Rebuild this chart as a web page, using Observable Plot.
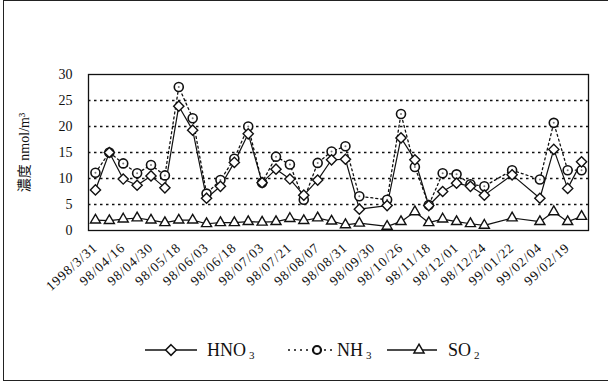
<!DOCTYPE html>
<html><head><meta charset="utf-8">
<script src="https://cdn.jsdelivr.net/npm/d3@7"></script>
<script src="https://cdn.jsdelivr.net/npm/@observablehq/plot@0.6"></script>
<style>
body{margin:0;background:#fff;}
#wrap{position:relative;width:608px;height:382px;overflow:hidden;font-family:"Liberation Serif",serif;background:#fff;}
#border{position:absolute;left:3px;top:0px;width:640px;height:381px;border:1.5px solid #222;box-sizing:border-box;pointer-events:none}
#chart{position:absolute;left:0;top:0;}
#legend{position:absolute;left:0;top:330px;}
</style></head>
<body><div id="wrap"><div id="chart"></div><svg id="legend" width="608" height="52"></svg><div id="border"></div></div>
<script>
// Category tick labels (shown on every other sampling slot)
const tickLabels = ["1998/3/31","98/04/16","98/04/30","98/05/18","98/06/03","98/06/18","98/07/03","98/07/21","98/08/07","98/08/31","98/09/30","98/10/26","98/11/18","98/12/01","98/12/24","99/01/22","99/02/04","99/02/19"];
// Series values per sampling slot (null = no sample)
const hno3 = [7.8,15.0,9.9,8.7,10.5,8.2,23.9,19.3,6.2,8.5,13.1,18.6,9.2,11.8,9.9,6.8,9.7,13.6,13.7,4.1,null,4.8,17.8,13.6,4.8,7.5,9.1,8.5,6.8,null,10.7,null,6.2,15.6,8.1,13.2];
const nh3  = [11.1,15.0,12.9,11.0,12.6,10.6,27.6,21.6,7.1,9.7,13.8,20.0,9.2,14.2,12.7,5.9,13.0,15.2,16.2,6.6,null,5.9,22.4,12.2,4.9,11.0,10.8,8.9,8.5,null,11.6,null,9.8,20.7,11.6,11.6];
const so2  = [2.0,1.9,2.2,2.4,2.0,1.5,2.0,2.0,1.3,1.5,1.5,1.7,1.6,1.7,2.3,1.9,2.4,1.8,1.1,1.4,null,0.8,1.7,3.6,1.5,2.2,1.7,1.3,1.0,null,2.4,null,1.7,3.6,1.7,2.7];
const yTicks = [0,5,10,15,20,25,30];
const gridValues = [5,10,15,20,25];
const yLabel = "濃度 nmol/m³";

const toRows = arr => arr.map((v,i)=>({i, v})).filter(d => d.v != null);
const hRows = toRows(hno3), nRows = toRows(nh3), sRows = toRows(so2);
const tickIdx = tickLabels.map((_,k)=>k*2);
const ink = "#111";

const chart = Plot.plot({
  width: 608, height: 330,
  marginLeft: 88, marginRight: 20, marginTop: 74, marginBottom: 100,
  style: {fontFamily: '"Liberation Serif", "Noto Sans CJK JP", serif', fontSize: "14px", color: ink, background: "transparent"},
  x: {domain: [-0.5, 35.5]},
  y: {domain: [0, 30]},
  marks: [
    Plot.ruleY(gridValues, {stroke: ink, strokeWidth: 1.5, strokeDasharray: "2.5,3.5"}),
    Plot.frame({stroke: ink, strokeWidth: 1.3}),
    Plot.axisY(yTicks, {tickSize: 0, tickPadding: 16, label: null, fontSize: 14}),
    Plot.text([yLabel], {text: d => d, frameAnchor: "left", textAnchor: "middle", dx: -64, rotate: -90, fontSize: 14, fill: ink}),
    Plot.axisX(tickIdx, {tickSize: 0, tickRotate: -42, tickPadding: 15, tickFormat: i => tickLabels[i/2], label: null, fontSize: 13.5}),
    Plot.line(nRows, {x: "i", y: "v", stroke: ink, strokeWidth: 1.3, strokeDasharray: "2,3"}),
    Plot.line(hRows, {x: "i", y: "v", stroke: ink, strokeWidth: 1.2}),
    Plot.line(sRows, {x: "i", y: "v", stroke: ink, strokeWidth: 1.2}),
    Plot.dot(nRows, {x: "i", y: "v", r: 4.5, fill: "white", stroke: ink, strokeWidth: 1.6}),
    Plot.dot(nRows, {x: "i", y: "v", r: 1, fill: "#777"}),
    Plot.dot(hRows, {x: "i", y: "v", symbol: "diamond2", r: 4.6, fill: "white", stroke: ink, strokeWidth: 1.4}),
    Plot.dot(sRows, {x: "i", y: "v", symbol: "triangle2", r: 4.8, fill: "white", stroke: ink, strokeWidth: 1.4})
  ]
});
d3.select(chart).selectAll('[aria-label="x-axis tick label"] text').style("letter-spacing", "1px");
document.getElementById("chart").appendChild(chart);

// Legend
const lg = d3.select("#legend");
const cy = 20;
const items = [
  {x0: 145, x1: 197, mx: 171, dash: null, sym: "diamond", tx: 207, main: "HNO", sub: "3"},
  {x0: 288, x1: 336, mx: 317, dash: "2,4", sym: "circle", tx: 337, main: "NH", sub: "3"},
  {x0: 387, x1: 437, mx: 419, dash: null, sym: "triangle", tx: 448, main: "SO", sub: "2"}
];
items.forEach(it => {
  lg.append("line").attr("x1", it.x0).attr("x2", it.x1).attr("y1", cy).attr("y2", cy)
    .attr("stroke", ink).attr("stroke-width", 1.4).attr("stroke-dasharray", it.dash);
  const type = it.sym === "diamond" ? d3.symbolDiamond2 : it.sym === "circle" ? d3.symbolCircle : d3.symbolTriangle2;
  const size = it.sym === "circle" ? Math.PI * 4 * 4 : Math.PI * 4.8 * 4.8;
  lg.append("path").attr("transform", `translate(${it.mx},${cy})`).attr("d", d3.symbol(type, size)())
    .attr("fill", "white").attr("stroke", ink).attr("stroke-width", it.sym === "circle" ? 2.2 : 1.5);
  const t = lg.append("text").attr("x", it.tx).attr("y", cy + 6).attr("font-family", '"Liberation Serif", serif')
    .attr("font-size", 18).attr("fill", ink);
  t.append("tspan").text(it.main);
  t.append("tspan").attr("dx", 3).attr("dy", 3).attr("font-size", 11).text(it.sub);
});
</script>
</body></html>
